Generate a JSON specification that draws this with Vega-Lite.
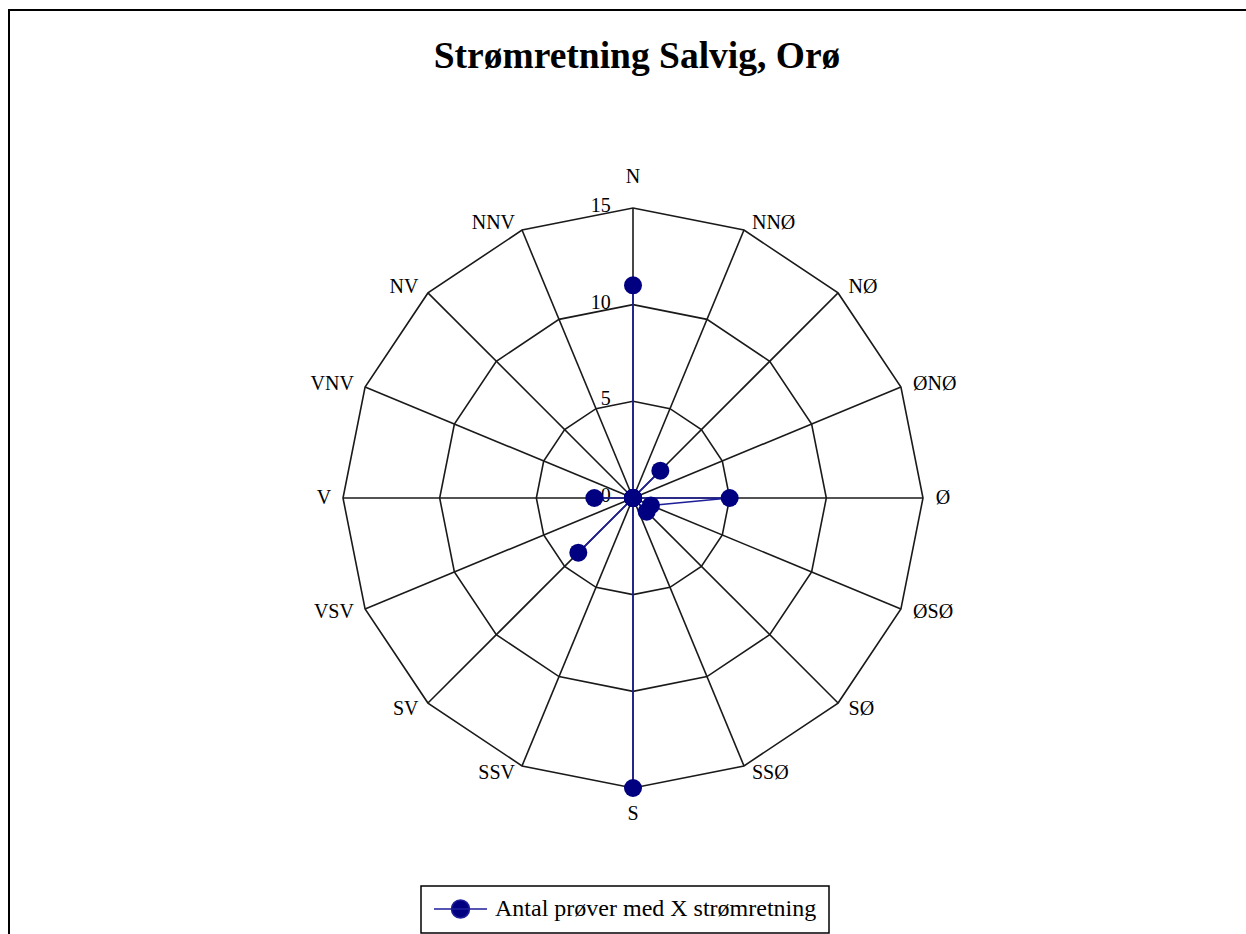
{
  "$schema": "https://vega.github.io/schema/vega-lite/v6.json",
  "width": 1240,
  "height": 928,
  "autosize": {"type": "none"},
  "padding": {"left": 9, "top": 10, "right": 0, "bottom": 0},
  "background": "white",
  "config": {
    "view": {"stroke": "black", "strokeWidth": 2},
    "font": "Liberation Serif"
  },
  "title": {
    "text": "Strømretning Salvig, Orø",
    "font": "Liberation Serif",
    "fontSize": 37.5,
    "fontWeight": "bold",
    "color": "black",
    "anchor": "middle",
    "orient": "top",
    "offset": 0,
    "baseline": "alphabetic",
    "dy": 95,
    "dx": 8
  },
  "datasets": {
    "dirs": [
      {"dir": "N", "i": 0, "antal": 11},
      {"dir": "NNØ", "i": 1, "antal": 0},
      {"dir": "NØ", "i": 2, "antal": 2},
      {"dir": "ØNØ", "i": 3, "antal": 0},
      {"dir": "Ø", "i": 4, "antal": 5},
      {"dir": "ØSØ", "i": 5, "antal": 1},
      {"dir": "SØ", "i": 6, "antal": 1},
      {"dir": "SSØ", "i": 7, "antal": 0},
      {"dir": "S", "i": 8, "antal": 15},
      {"dir": "SSV", "i": 9, "antal": 0},
      {"dir": "SV", "i": 10, "antal": 4},
      {"dir": "VSV", "i": 11, "antal": 0},
      {"dir": "V", "i": 12, "antal": 2},
      {"dir": "VNV", "i": 13, "antal": 0},
      {"dir": "NV", "i": 14, "antal": 0},
      {"dir": "NNV", "i": 15, "antal": 0}
    ],
    "levels": [
      {"lv": 0, "label": "0"},
      {"lv": 5, "label": "5"},
      {"lv": 10, "label": "10"},
      {"lv": 15, "label": "15"}
    ]
  },
  "layer": [
    {
      "data": {"name": "levels"},
      "mark": {"type": "text", "align": "right", "baseline": "middle", "fontSize": 20, "font": "Liberation Serif", "color": "black", "dy": -2},
      "encoding": {
        "x": {"datum": -1.15, "type": "quantitative", "scale": {"domain": [-32.276, 31.862], "nice": false, "zero": false}, "axis": null},
        "y": {"field": "lv", "type": "quantitative", "scale": {"domain": [-22.759, 25.241], "nice": false, "zero": false}, "axis": null},
        "text": {"field": "label"}
      }
    },
    {
      "data": {"name": "dirs"},
      "transform": [
        {"calculate": "[5, 10, 15]", "as": "lv"},
        {"flatten": ["lv"]},
        {"calculate": "datum.lv * sin(datum.i * PI / 8)", "as": "x"},
        {"calculate": "datum.lv * cos(datum.i * PI / 8)", "as": "y"}
      ],
      "mark": {"type": "line", "interpolate": "linear-closed", "color": "#1a1a1a", "strokeWidth": 1.6},
      "encoding": {
        "x": {"field": "x", "type": "quantitative", "scale": {"domain": [-32.276, 31.862], "nice": false, "zero": false}, "axis": null},
        "y": {"field": "y", "type": "quantitative", "scale": {"domain": [-22.759, 25.241], "nice": false, "zero": false}, "axis": null},
        "detail": {"field": "lv"},
        "order": {"field": "i", "type": "quantitative"}
      }
    },
    {
      "data": {"name": "dirs"},
      "transform": [
        {"calculate": "15 * sin(datum.i * PI / 8)", "as": "x"},
        {"calculate": "15 * cos(datum.i * PI / 8)", "as": "y"}
      ],
      "mark": {"type": "rule", "color": "#1a1a1a", "strokeWidth": 1.6},
      "encoding": {
        "x": {"field": "x", "type": "quantitative", "scale": {"domain": [-32.276, 31.862], "nice": false, "zero": false}, "axis": null},
        "y": {"field": "y", "type": "quantitative", "scale": {"domain": [-22.759, 25.241], "nice": false, "zero": false}, "axis": null},
        "x2": {"datum": 0},
        "y2": {"datum": 0}
      }
    },
    {
      "data": {"name": "dirs"},
      "transform": [
        {"calculate": "datum.antal * sin(datum.i * PI / 8)", "as": "x"},
        {"calculate": "datum.antal * cos(datum.i * PI / 8)", "as": "y"}
      ],
      "mark": {"type": "line", "interpolate": "linear-closed", "color": "#1f1f99", "strokeWidth": 1.6},
      "encoding": {
        "x": {"field": "x", "type": "quantitative", "scale": {"domain": [-32.276, 31.862], "nice": false, "zero": false}, "axis": null},
        "y": {"field": "y", "type": "quantitative", "scale": {"domain": [-22.759, 25.241], "nice": false, "zero": false}, "axis": null},
        "order": {"field": "i", "type": "quantitative"}
      }
    },
    {
      "data": {"name": "dirs"},
      "transform": [
        {"calculate": "datum.antal * sin(datum.i * PI / 8)", "as": "x"},
        {"calculate": "datum.antal * cos(datum.i * PI / 8)", "as": "y"}
      ],
      "mark": {"type": "point", "filled": true, "size": 324, "opacity": 1, "shape": "circle"},
      "encoding": {
        "x": {"field": "x", "type": "quantitative", "scale": {"domain": [-32.276, 31.862], "nice": false, "zero": false}, "axis": null},
        "y": {"field": "y", "type": "quantitative", "scale": {"domain": [-22.759, 25.241], "nice": false, "zero": false}, "axis": null},
        "color": {
          "datum": "Antal prøver med X strømretning",
          "type": "nominal",
          "scale": {"range": ["#000080"]},
          "legend": {
            "title": null,
            "orient": "none",
            "legendX": 412,
            "legendY": 876,
            "strokeColor": "black",
            "fillColor": "white",
            "padding": 12,
            "clipHeight": 22,
            "symbolType": "M-1,0L1,0M-0.34,0A0.34,0.34,0,1,1,0.34,0A0.34,0.34,0,1,1,-0.34,0Z",
            "symbolSize": 2809,
            "symbolStrokeColor": "#1f1f99",
            "symbolFillColor": "#000080",
            "symbolOpacity": 1,
            "labelFont": "Liberation Serif",
            "labelFontSize": 24,
            "labelColor": "black",
            "labelOffset": 7,
            "labelLimit": 0,
            "encode": {
              "legend": {"update": {"strokeWidth": {"value": 1.5}}},
              "symbols": {"update": {"strokeWidth": {"value": 1.5}, "stroke": {"value": "#1f1f99"}, "fill": {"value": "#000080"}}}
            }
          }
        }
      }
    },
    {
      "data": {"name": "dirs"},
      "transform": [
        {"filter": "datum.i >= 1 && datum.i <= 7"},
        {"calculate": "15.4 * sin(datum.i * PI / 8)", "as": "x"},
        {"calculate": "15.4 * cos(datum.i * PI / 8)", "as": "y"}
      ],
      "mark": {"type": "text", "align": "left", "baseline": "middle", "fontSize": 20, "font": "Liberation Serif", "color": "black", "dx": 5},
      "encoding": {
        "x": {"field": "x", "type": "quantitative", "scale": {"domain": [-32.276, 31.862], "nice": false, "zero": false}, "axis": null},
        "y": {"field": "y", "type": "quantitative", "scale": {"domain": [-22.759, 25.241], "nice": false, "zero": false}, "axis": null},
        "text": {"field": "dir"}
      }
    },
    {
      "data": {"name": "dirs"},
      "transform": [
        {"filter": "datum.i >= 9"},
        {"calculate": "15.4 * sin(datum.i * PI / 8)", "as": "x"},
        {"calculate": "15.4 * cos(datum.i * PI / 8)", "as": "y"}
      ],
      "mark": {"type": "text", "align": "right", "baseline": "middle", "fontSize": 20, "font": "Liberation Serif", "color": "black", "dx": -4},
      "encoding": {
        "x": {"field": "x", "type": "quantitative", "scale": {"domain": [-32.276, 31.862], "nice": false, "zero": false}, "axis": null},
        "y": {"field": "y", "type": "quantitative", "scale": {"domain": [-22.759, 25.241], "nice": false, "zero": false}, "axis": null},
        "text": {"field": "dir"}
      }
    },
    {
      "data": {"name": "dirs"},
      "transform": [
        {"filter": "datum.i == 0"}
      ],
      "mark": {"type": "text", "align": "center", "baseline": "bottom", "fontSize": 20, "font": "Liberation Serif", "color": "black", "dy": -21},
      "encoding": {
        "x": {"datum": 0, "type": "quantitative", "scale": {"domain": [-32.276, 31.862], "nice": false, "zero": false}, "axis": null},
        "y": {"datum": 15, "type": "quantitative", "scale": {"domain": [-22.759, 25.241], "nice": false, "zero": false}, "axis": null},
        "text": {"field": "dir"}
      }
    },
    {
      "data": {"name": "dirs"},
      "transform": [
        {"filter": "datum.i == 8"}
      ],
      "mark": {"type": "text", "align": "center", "baseline": "top", "fontSize": 20, "font": "Liberation Serif", "color": "black", "dy": 16},
      "encoding": {
        "x": {"datum": 0, "type": "quantitative", "scale": {"domain": [-32.276, 31.862], "nice": false, "zero": false}, "axis": null},
        "y": {"datum": -15, "type": "quantitative", "scale": {"domain": [-22.759, 25.241], "nice": false, "zero": false}, "axis": null},
        "text": {"field": "dir"}
      }
    }
  ]
}
